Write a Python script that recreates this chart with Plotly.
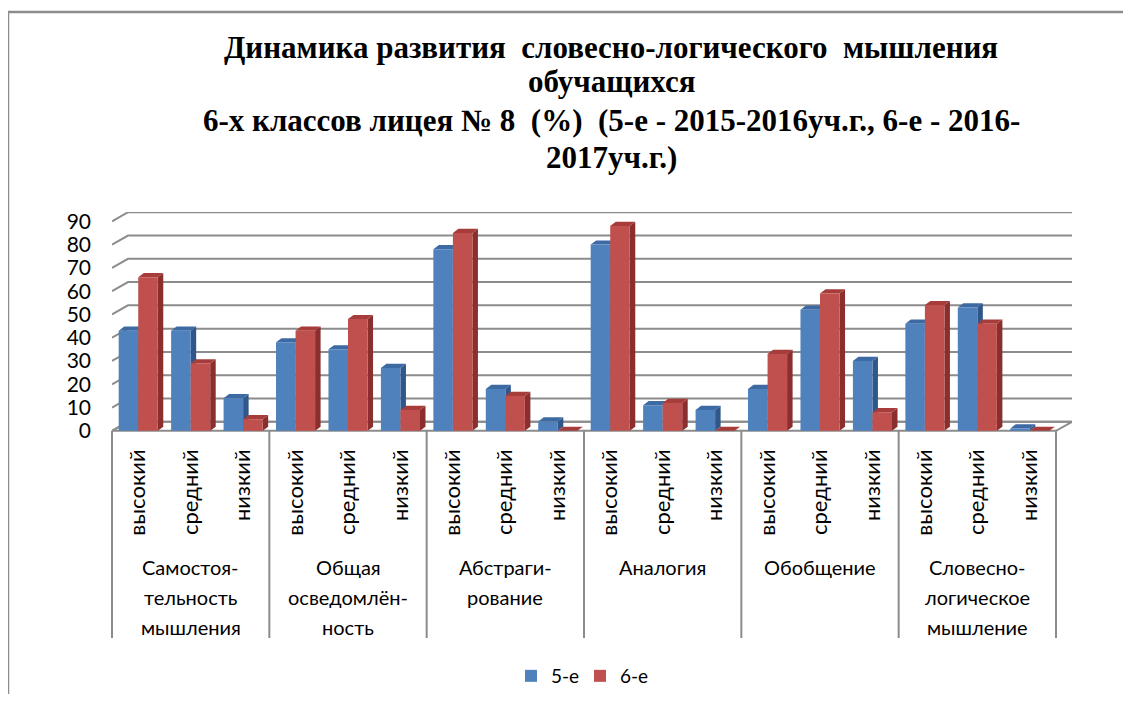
import plotly.graph_objects as go

groups = ["Самостоя-|тельность|мышления", "Общая|осведомлён-|ность", "Абстраги-|рование",
          "Аналогия", "Обобщение", "Словесно-|логическое|мышление"]
levels = ["высокий", "средний", "низкий"]
series_names = ["5-е", "6-е"]
v5 = [43, 43, 14, 38, 35, 27, 78, 18, 4, 80, 11, 9, 18, 52, 30, 46, 53, 1]
v6 = [66, 29, 5, 43, 48, 9, 85, 15, 0, 88, 12, 0, 33, 59, 8, 54, 46, 0]
yticks = [0, 10, 20, 30, 40, 50, 60, 70, 80, 90]

front_colors = ["#4F81BD", "#C0504D"]
side_colors = ["#30568A", "#8A2F2D"]
top_colors = ["#3E6AA3", "#A63D3A"]

n = len(v5)
xs = list(range(n))
ticktext = [levels[i % 3] for i in xs]

# page geometry (pixels); the figure sits 8px inside the page (body margin)
OFF = 8
PW, PH = 1131, 702
W, H = PW - 2 * OFF, PH - 2 * OFF
# plot area in page pixels
p_left, p_right, p_top, p_bottom = 112, 1072, 212, 432
ml, mr = p_left - OFF, W - (p_right - OFF)
mt, mb = p_top - OFF, H - (p_bottom - OFF)
pw, ph = W - ml - mr, H - mt - mb
x_wall = 0.305   # depth of back wall in x units
y_wall = 3.9     # depth of back wall in y units
xmin, xmax = -0.5, n - 0.5 + x_wall
ymin, ymax = -0.5, 94
bargap = 0.255
bw = (1 - bargap) / 2
bx_d = 0.105
by_d = 1.8


def py_to_paper(py):
    return (p_bottom - py) / ph


def px_to_paper(px):
    return (px - p_left) / pw


def dx_to_paper(x):
    return (x - xmin) / (xmax - xmin)


def dy_to_paper(y):
    return (y - ymin) / (ymax - ymin)


fig = go.Figure()
for k, (name, vals) in enumerate(zip(series_names, [v5, v6])):
    fig.add_trace(go.Bar(x=xs, y=vals, name=name, marker=dict(color=front_colors[k], line=dict(width=0))))

shapes = []
# floor
x0f, x1f = -0.5, n - 0.5
shapes.append(dict(type="path", xref="x", yref="y", layer="below",
                   path=f"M{x0f},0 L{x1f},0 L{x1f + x_wall},{y_wall} L{x0f + x_wall},{y_wall} Z",
                   fillcolor="white", line=dict(color="#8c8c8c", width=2)))
# back wall gridlines with left side diagonal
for v in yticks:
    shapes.append(dict(type="path", xref="x", yref="y", layer="below",
                       path=f"M{x0f},{v} L{x0f + x_wall},{v + y_wall} L{x1f + x_wall},{v + y_wall}",
                       line=dict(color="#8c8c8c", width=2)))
# bar depth faces
for k, vals in enumerate([v5, v6]):
    for i, v in enumerate(vals):
        left = i - (1 - bargap) / 2 + k * bw
        right = left + bw
        shapes.append(dict(type="path", xref="x", yref="y", layer="below",
                           path=f"M{right},0 L{right + bx_d},{by_d} L{right + bx_d},{v + by_d} L{right},{v} Z",
                           fillcolor=side_colors[k], line=dict(width=0)))
        shapes.append(dict(type="path", xref="x", yref="y", layer="below",
                           path=f"M{left},{v} L{right},{v} L{right + bx_d},{v + by_d} L{left + bx_d},{v + by_d} Z",
                           fillcolor=top_colors[k], line=dict(width=0)))
# group dividers below the axis
y_top = dy_to_paper(0)
y_bot = py_to_paper(638)
for g in range(len(groups) + 1):
    xp = dx_to_paper(g * 3 - 0.5)
    shapes.append(dict(type="line", xref="paper", yref="paper", x0=xp, x1=xp, y0=y_top, y1=y_bot,
                       line=dict(color="#8c8c8c", width=2)))
# chart frame
shapes.append(dict(type="path", xref="paper", yref="paper",
                   path=f"M{px_to_paper(8)},{py_to_paper(710)} L{px_to_paper(8)},{py_to_paper(12)} L{px_to_paper(1140)},{py_to_paper(12)}",
                   line=dict(color="#8c8c8c", width=2.5)))

annotations = []
line_y = [567, 597, 627]
for g, label in enumerate(groups):
    for j, part in enumerate(label.split("|")):
        annotations.append(dict(text=part, xref="x", yref="paper", x=g * 3 + 1, y=py_to_paper(line_y[j]),
                                xanchor="center", yanchor="middle", showarrow=False,
                                font=dict(family="Lato", size=20, color="#000")))

title_lines = ["Динамика развития&nbsp; словесно-логического&nbsp; мышления",
               "обучащихся",
               "6-х классов лицея № 8&nbsp; (%)&nbsp; (5-е - 2015-2016уч.г., 6-е - 2016-",
               "2017уч.г.)"]
title_y = [47, 81, 120, 157]
for t, ty in zip(title_lines, title_y):
    annotations.append(dict(text=f"<b>{t}</b>", xref="paper", yref="paper", x=px_to_paper(611), y=py_to_paper(ty),
                            xanchor="center", yanchor="middle", showarrow=False,
                            font=dict(family="Liberation Serif", size=31, color="#000")))

fig.update_layout(
    width=W, height=H,
    margin=dict(l=ml, r=mr, t=mt, b=mb, autoexpand=False),
    paper_bgcolor="white", plot_bgcolor="white",
    barmode="group", bargap=bargap, bargroupgap=0,
    shapes=shapes, annotations=annotations,
    showlegend=True,
    legend=dict(orientation="h", x=px_to_paper(580), y=py_to_paper(676), xanchor="center", yanchor="middle",
                font=dict(family="Lato", size=19, color="#000"), itemwidth=30,
                entrywidth=24, entrywidthmode="pixels"),
    xaxis=dict(range=[xmin, xmax], tickmode="array", tickvals=xs, ticktext=ticktext, tickangle=-90,
               showgrid=False, zeroline=False, showline=False, ticks="",
               tickfont=dict(family="Lato", size=22, color="#000"), ticklabelstandoff=12),
    yaxis=dict(range=[ymin, ymax], tickmode="array", tickvals=yticks, showgrid=False, zeroline=False,
               showline=False, ticks="", tickfont=dict(family="Lato", size=21, color="#000"),
               ticklabelstandoff=20),
)

fig.write_html("out.html")
